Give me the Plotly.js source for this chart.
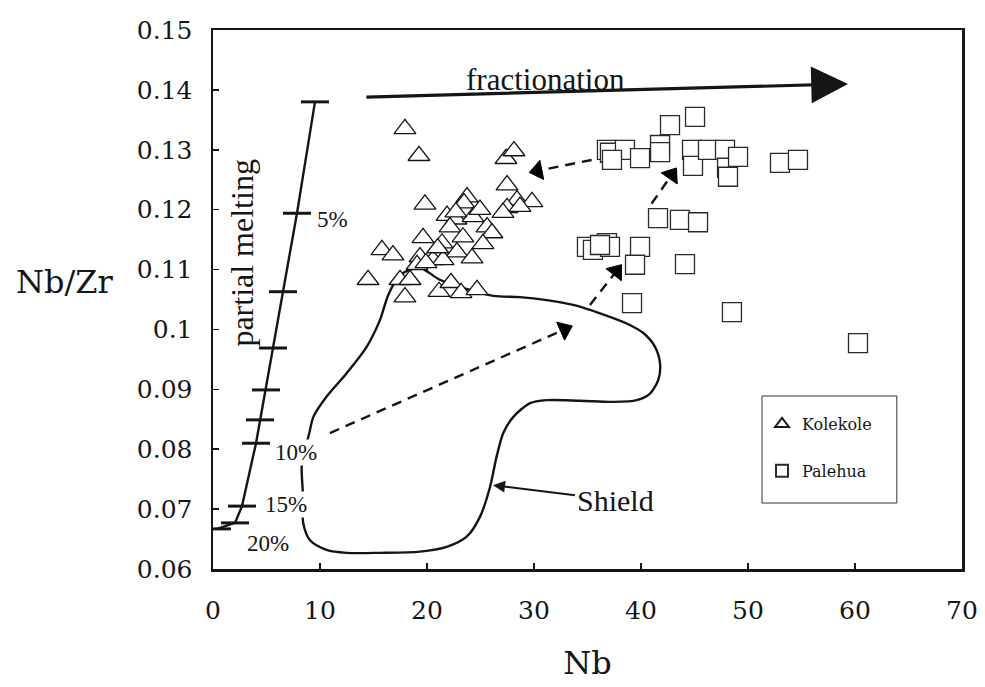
<!DOCTYPE html>
<html>
<head>
<meta charset="utf-8">
<script src="https://cdn.plot.ly/plotly-3.0.1.min.js"></script>
<style>
  html, body { margin: 0; padding: 0; background: #fff; }
  #chart { width: 985px; height: 687px; }
</style>
</head>
<body>
<div id="chart"></div>
<script>
// Kolekole samples (Nb ppm, Nb/Zr)
const kolekoleNb = [17.94, 19.25, 27.38, 28.13, 27.48, 19.81, 23.74, 23.46, 28.41, 29.81, 27.48,
  21.87, 22.71, 24.30, 27.10, 28.69, 22.15, 25.61, 19.63, 23.36, 26.07, 15.79, 16.82, 21.40,
  22.80, 25.23, 19.35, 20.56, 21.50, 24.21, 19.07, 14.49, 17.48, 18.41, 17.94, 21.12, 22.24,
  23.18, 24.67, 22.70, 24.95, 21.00, 19.90];
const kolekoleNbZr = [0.1335, 0.1290, 0.1285, 0.1298, 0.1241, 0.1209, 0.1221, 0.1211, 0.1216, 0.1213, 0.1203,
  0.1190, 0.1184, 0.1188, 0.1195, 0.1205, 0.1171, 0.1171, 0.1153, 0.1154, 0.1161, 0.1133, 0.1124, 0.1144,
  0.1129, 0.1143, 0.1121, 0.1116, 0.1116, 0.1119, 0.1108, 0.1083, 0.1083, 0.1083, 0.1054, 0.1063, 0.1078,
  0.1061, 0.1066, 0.1196, 0.1200, 0.1136, 0.1111];

// Palehua samples
const palehuaNb = [45.05, 42.71, 36.82, 37.10, 38.50, 37.29, 39.91, 41.78, 41.78, 44.77, 44.86,
  46.26, 47.85, 48.04, 48.13, 49.07, 52.99, 54.67, 41.59, 43.64, 45.33, 34.95, 35.51, 36.82,
  37.10, 36.17, 39.91, 39.44, 44.11, 39.16, 48.50, 60.28];
const palehuaNbZr = [0.1355, 0.1341, 0.1300, 0.1295, 0.1300, 0.1283, 0.1286, 0.1308, 0.1296, 0.1300, 0.1273,
  0.1300, 0.1300, 0.1270, 0.1255, 0.1288, 0.1278, 0.1283, 0.1186, 0.1183, 0.1179, 0.1138, 0.1133, 0.1144,
  0.1138, 0.1141, 0.1138, 0.1108, 0.1109, 0.1044, 0.1029, 0.0977];

// Partial melting trend with tick marks at each melting step
const meltNb = [9.53, 7.85, 6.54, 5.61, 4.95, 4.39, 4.02, 2.71, 2.06, 0.37];
const meltNbZr = [0.1380, 0.1194, 0.1063, 0.0969, 0.0899, 0.0849, 0.0810, 0.0705, 0.0677, 0.0667];
const meltLabels = ['5%', '10%', '15%', '20%'];
const meltLabelNb = [11.21, 7.76, 6.82, 5.14];
const meltLabelNbZr = [0.1183, 0.0795, 0.0707, 0.0642];

// Outline of the shield-stage field
const shieldNb = [16.39, 15.61, 14.36, 12.49, 10.62, 9.38, 9.00, 8.60, 8.29, 8.38, 8.44, 9.07, 10.62,
  12.49, 15.61, 19.35, 21.84, 23.71, 24.95, 25.89, 26.51, 27.13, 28.07, 29.63, 31.19, 34.30, 37.41,
  39.60, 40.84, 41.62, 41.78, 41.31, 40.22, 38.66, 36.17, 33.67, 31.19, 28.69, 26.20, 24.00, 21.20,
  19.30, 17.50, 16.39];
const shieldNbZr = [0.1058, 0.1016, 0.0971, 0.0927, 0.0888, 0.0854, 0.0827, 0.0799, 0.0771, 0.0732, 0.0676,
  0.0648, 0.0632, 0.0627, 0.0627, 0.0629, 0.0637, 0.0654, 0.0687, 0.0737, 0.0788, 0.0827, 0.0854, 0.0877,
  0.0882, 0.0881, 0.0879, 0.0882, 0.0893, 0.0916, 0.0943, 0.0971, 0.0994, 0.1010, 0.1027, 0.1041, 0.1049,
  0.1054, 0.1056, 0.1066, 0.1083, 0.1103, 0.1091, 0.1058];

// Dashed evolution arrows: tail point and arrowhead position
const dashStartNb = [10.93, 35.23, 40.99, 35.39];
const dashStartNbZr = [0.0827, 0.1041, 0.1210, 0.1283];
const dashEndNb = [32.85, 37.69, 42.86, 30.34];
const dashEndNbZr = [0.1000, 0.1097, 0.1258, 0.1265];

// Fractionation arrow (tail, tip)
const fracNb = [14.2, 59.35];
const fracNbZr = [0.1388, 0.1410];

// Axis ticks
const xTickVals = [0, 10, 20, 30, 40, 50, 60, 70];
const xTickText = ['0', '10', '20', '30', '40', '50', '60', '70'];
const yTickVals = [0.06, 0.07, 0.08, 0.09, 0.10, 0.11, 0.12, 0.13, 0.14, 0.15];
const yTickText = ['0.06', '0.07', '0.08', '0.09', '0.1', '0.11', '0.12', '0.13', '0.14', '0.15'];

const INK = '#151515';
const SERIF = 'Liberation Serif, Times New Roman, serif';
const AXIS_FONT = 'DejaVu Serif, serif';

const traces = [];

traces.push({
  x: shieldNb, y: shieldNbZr, type: 'scatter', mode: 'lines',
  line: { color: INK, width: 2.4, shape: 'spline', smoothing: 0.8 },
  hoverinfo: 'skip', showlegend: false
});

traces.push({
  x: meltNb, y: meltNbZr, type: 'scatter', mode: 'lines+markers',
  line: { color: INK, width: 2.4 },
  marker: { symbol: 'line-ew', size: 20, line: { color: INK, width: 3 } },
  hoverinfo: 'skip', showlegend: false
});

// dashed arrows: the head is a filled triangle turned along the segment
for (let i = 0; i < dashStartNb.length; i++) {
  traces.push({
    x: [dashStartNb[i], dashEndNb[i]], y: [dashStartNbZr[i], dashEndNbZr[i]],
    type: 'scatter', mode: 'lines+markers',
    line: { color: INK, width: 2.4, dash: '10px,7px' },
    marker: { symbol: 'triangle-up', size: [0, 17], angleref: 'previous', color: '#000000', opacity: 1,
      line: { color: '#000000', width: 1 } },
    hoverinfo: 'skip', showlegend: false
  });
}

traces.push({
  x: kolekoleNb, y: kolekoleNbZr, type: 'scatter', mode: 'markers', name: 'Kolekole',
  legendgroup: 'k',
  marker: { symbol: 'triangle-up', size: 19, color: '#ffffff', line: { color: INK, width: 1.3 } }
});

traces.push({
  x: palehuaNb, y: palehuaNbZr, type: 'scatter', mode: 'markers', name: 'Palehua',
  legendgroup: 'p',
  marker: { symbol: 'square', size: 19, color: '#ffffff', line: { color: '#2a2a2a', width: 1.3 } }
});

const annotations = [
  { xref: 'x', yref: 'y', x: fracNb[1], y: fracNbZr[1], ax: fracNb[0], ay: fracNbZr[0],
    axref: 'x', ayref: 'y', text: '', showarrow: true,
    arrowhead: 2, arrowwidth: 3.2, arrowsize: 2.3, arrowcolor: INK },
  { xref: 'x', yref: 'y', x: 31.03, y: 0.1417, text: 'fractionation', showarrow: false,
    font: { family: SERIF, size: 31, color: INK } },
  { xref: 'x', yref: 'y', x: 2.75, y: 0.1129, text: 'partial melting', showarrow: false, textangle: -90,
    font: { family: SERIF, size: 32, color: INK } },
  { xref: 'x', yref: 'y', x: 26.17, y: 0.0740, ax: 37.57, ay: 0.0715, axref: 'x', ayref: 'y',
    text: 'Shield', showarrow: true, arrowhead: 2, arrowsize: 1.2, arrowwidth: 2, arrowcolor: INK,
    font: { family: SERIF, size: 30, color: INK } },
  { xref: 'paper', yref: 'paper', x: -0.198, y: 0.532, xanchor: 'center', yanchor: 'middle',
    text: 'Nb/Zr', showarrow: false,
    font: { family: AXIS_FONT, size: 32, color: INK } }
];
for (let i = 0; i < meltLabels.length; i++) {
  annotations.push({
    xref: 'x', yref: 'y', x: meltLabelNb[i], y: meltLabelNbZr[i], text: meltLabels[i], showarrow: false,
    bgcolor: i === 0 ? 'rgba(0,0,0,0)' : '#ffffff', borderpad: 0,
    font: { family: SERIF, size: 23, color: INK }
  });
}

const axisCommon = {
  showline: true, linewidth: 2.5, linecolor: INK, mirror: true,
  showgrid: false, zeroline: false,
  ticks: 'inside', ticklen: 6, tickwidth: 1.5, tickcolor: INK,
  tickfont: { family: AXIS_FONT, size: 25, color: INK }
};

const layout = {
  width: 985, height: 687,
  margin: { l: 213, r: 23, t: 30, b: 118 },
  paper_bgcolor: '#ffffff', plot_bgcolor: '#ffffff',
  font: { family: SERIF, color: INK },
  xaxis: Object.assign({}, axisCommon, {
    range: [0, 70], tickmode: 'array', tickvals: xTickVals, ticktext: xTickText,
    ticklabelstandoff: 17,
    title: { text: 'Nb', font: { family: AXIS_FONT, size: 32, color: INK }, standoff: 28 }
  }),
  yaxis: Object.assign({}, axisCommon, {
    range: [0.06, 0.15], tickmode: 'array', tickvals: yTickVals, ticktext: yTickText,
    ticklabelstandoff: 13
  }),
  showlegend: true,
  legend: {
    x: 0.733, y: 0.3006, xanchor: 'left', yanchor: 'top',
    bgcolor: 'rgba(0,0,0,0)', borderwidth: 0,
    font: { family: 'DejaVu Serif, serif', size: 16, color: INK },
    itemsizing: 'constant', tracegroupgap: 23
  },
  // frame around the legend entries
  shapes: [{
    type: 'rect', xref: 'paper', yref: 'paper',
    x0: 0.733, x1: 0.913, y0: 0.1224, y1: 0.321,
    line: { color: '#333333', width: 1 }, fillcolor: 'rgba(0,0,0,0)'
  }],
  annotations: annotations
};

Plotly.newPlot('chart', traces, layout, { displayModeBar: false, staticPlot: true });
</script>
</body>
</html>
